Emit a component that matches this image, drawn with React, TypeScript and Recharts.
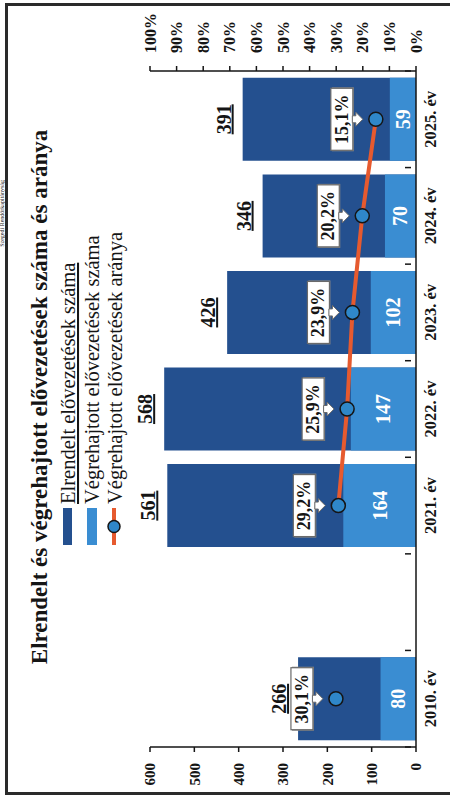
import React from 'react';
import { ComposedChart, Bar, Line, XAxis, YAxis, LabelList, Legend } from 'recharts';

const years = ['2010. év', '', '2021. év', '2022. év', '2023. év', '2024. év', '2025. év'];
const elrendelt = [266, null, 561, 568, 426, 346, 391];
const vegrehajtott = [80, null, 164, 147, 102, 70, 59];
const arany = [30.1, null, 29.2, 25.9, 23.9, 20.2, 15.1];
const countTicks = [0, 100, 200, 300, 400, 500, 600];
const pctTicks = [0, 10, 20, 30, 40, 50, 60, 70, 80, 90, 100];

const seriesNames = [
  'Elrendelt elővezetések száma',
  'Végrehajtott elővezetések száma',
  'Végrehajtott elővezetések aránya',
];

const data = years.map((name, i) => ({
  name,
  elrendelt: elrendelt[i],
  vegrehajtott: vegrehajtott[i],
  arany: arany[i],
}));

const FONT = '"Liberation Serif", "Times New Roman", serif';
const DARK = '#24508f';
const LIGHT = '#3a8dd2';
const LINE = '#e65a2f';
const DOT = '#2f87c9';
const INK = '#151515';

// category ticks sit on the band borders, labels in the middle
const YearTick = (props: any) => {
  const { x, y, payload, index, visibleTicksCount } = props;
  const half = payload.offset || 48;
  const axisY = y - 19;
  return (
    <g>
      <line x1={x - half} x2={x - half} y1={axisY} y2={axisY + 6} stroke={INK} strokeWidth={1.5} />
      {index === visibleTicksCount - 1 && (
        <line x1={x + half} x2={x + half} y1={axisY} y2={axisY + 6} stroke={INK} strokeWidth={1.5} />
      )}
      <text x={x} y={axisY + 31} textAnchor="middle" fontSize={16.5} fontWeight="bold" fill={INK} fontFamily={FONT}>
        {payload.value}
      </text>
    </g>
  );
};

const TotalLabel = (props: any) => {
  const { x, y, width, value } = props;
  if (value == null) return null;
  return (
    <text
      x={x + width / 2}
      y={y - 12}
      textAnchor="middle"
      fontSize={20}
      fontWeight="bold"
      fill={INK}
      fontFamily={FONT}
      textDecoration="underline"
    >
      {value}
    </text>
  );
};

const CountLabel = (props: any) => {
  const { x, y, width, height, value } = props;
  if (value == null) return null;
  return (
    <text
      x={x + width / 2}
      y={y + height / 2 + 7}
      textAnchor="middle"
      fontSize={20}
      fontWeight="bold"
      fill="#ffffff"
      fontFamily={FONT}
    >
      {value}
    </text>
  );
};

const PctLabel = (props: any) => {
  const { x, y, value } = props;
  if (value == null || y == null) return null;
  const txt = value.toFixed(1).replace('.', ',') + '%';
  return (
    <g>
      <rect x={x - 32} y={y - 44} width={64} height={22} fill="#8a8a8a" />
      <rect x={x - 31} y={y - 45} width={62} height={22} fill="#ffffff" stroke="#6a6a6a" strokeWidth={1.2} />
      <polygon
        points={`${x - 3.5},${y - 23.5} ${x - 3.5},${y - 20} ${x - 7},${y - 20} ${x},${y - 13} ${x + 7},${y - 20} ${x + 3.5},${y - 20} ${x + 3.5},${y - 23.5}`}
        fill="#ffffff"
        stroke="#6a6a6a"
        strokeWidth={1}
      />
      <text x={x} y={y - 28} textAnchor="middle" fontSize={18} fontWeight="bold" fill={INK} fontFamily={FONT}>
        {txt}
      </text>
    </g>
  );
};

const renderLegend = () => (
  <svg width={440} height={75} style={{ display: 'block' }}>
    <rect x={0} y={8} width={37} height={9} fill={DARK} />
    <text x={41} y={20} fontSize={20.5} fill={INK} fontFamily={FONT} textDecoration="underline">
      {seriesNames[0]}
    </text>
    <rect x={0} y={32} width={37} height={10} fill={LIGHT} />
    <text x={41} y={44} fontSize={20.5} fill={INK} fontFamily={FONT}>
      {seriesNames[1]}
    </text>
    <line x1={0} x2={37} y1={59} y2={59} stroke={LINE} strokeWidth={4} />
    <circle cx={18.5} cy={59} r={6} fill={DOT} stroke={INK} strokeWidth={1.5} />
    <text x={41} y={67} fontSize={20.5} fill={INK} fontFamily={FONT}>
      {seriesNames[2]}
    </text>
  </svg>
);

export default function App() {
  return (
    <div style={{ position: 'fixed', left: 0, top: 0, width: 450, height: 801, overflow: 'hidden', background: '#fff' }}>
      <div
        style={{
          position: 'absolute',
          left: 0,
          top: 0,
          width: 801,
          height: 450,
          transformOrigin: '0 0',
          transform: 'translate(0px, 801px) rotate(-90deg)',
        }}
      >
        <ComposedChart
          width={801}
          height={450}
          data={data}
          margin={{ top: 150, right: 0, bottom: 0, left: 0 }}
          barCategoryGap="7%"
        >
          <XAxis
            xAxisId="main"
            dataKey="name"
            height={34}
            interval={0}
            tickLine={false}
            tick={<YearTick />}
            axisLine={{ stroke: INK, strokeWidth: 1.5 }}
          />
          <XAxis xAxisId="overlay" dataKey="name" hide />
          <YAxis
            yAxisId="count"
            width={54}
            domain={[0, 600]}
            ticks={countTicks}
            tickSize={5}
            tickMargin={11}
            axisLine={{ stroke: INK, strokeWidth: 1.5 }}
            tickLine={{ stroke: INK, strokeWidth: 1.5 }}
            tick={{ fontSize: 15, fontWeight: 'bold', fill: INK, fontFamily: FONT }}
          />
          <YAxis
            yAxisId="pct"
            orientation="right"
            width={71}
            domain={[0, 100]}
            ticks={pctTicks}
            tickSize={5}
            tickMargin={13}
            tickFormatter={(v) => `${v}%`}
            axisLine={{ stroke: INK, strokeWidth: 1.5 }}
            tickLine={{ stroke: INK, strokeWidth: 1.5 }}
            tick={{ fontSize: 16, fontWeight: 'bold', fill: INK, fontFamily: FONT }}
          />
          <Legend
            content={renderLegend}
            layout="vertical"
            align="center"
            verticalAlign="middle"
            wrapperStyle={{ left: 256, top: 55, width: 440 }}
          />
          <Bar
            dataKey="elrendelt"
            name={seriesNames[0]}
            xAxisId="main"
            yAxisId="count"
            fill={DARK}
            isAnimationActive={false}
          >
            <LabelList dataKey="elrendelt" content={<TotalLabel />} />
          </Bar>
          <Bar
            dataKey="vegrehajtott"
            name={seriesNames[1]}
            xAxisId="overlay"
            yAxisId="count"
            fill={LIGHT}
            isAnimationActive={false}
          >
            <LabelList dataKey="vegrehajtott" content={<CountLabel />} />
          </Bar>
          <Line
            dataKey="arany"
            name={seriesNames[2]}
            xAxisId="main"
            yAxisId="pct"
            stroke={LINE}
            strokeWidth={4}
            dot={{ r: 7, fill: DOT, stroke: INK, strokeWidth: 1.5 }}
            activeDot={false}
            isAnimationActive={false}
          >
            <LabelList dataKey="arany" content={<PctLabel />} />
          </Line>
        </ComposedChart>
        <svg
          width={801}
          height={450}
          style={{ position: 'absolute', left: 0, top: 0, pointerEvents: 'none' }}
        >
          <text x={621} y={4} textAnchor="end" fontSize={6} fill={INK} fontFamily={FONT}>
            Szegedi Rendőrkapitányság
          </text>
          <text x={404} y={47} textAnchor="middle" fontSize={23} fontWeight="bold" fill={INK} fontFamily={FONT}>
            Elrendelt és végrehajtott elővezetések száma és aránya
          </text>
          <path d="M7.5,460 L7.5,6.5 L796.5,6.5 L796.5,460" fill="none" stroke="#2a2a2a" strokeWidth={3} />
        </svg>
      </div>
    </div>
  );
}
